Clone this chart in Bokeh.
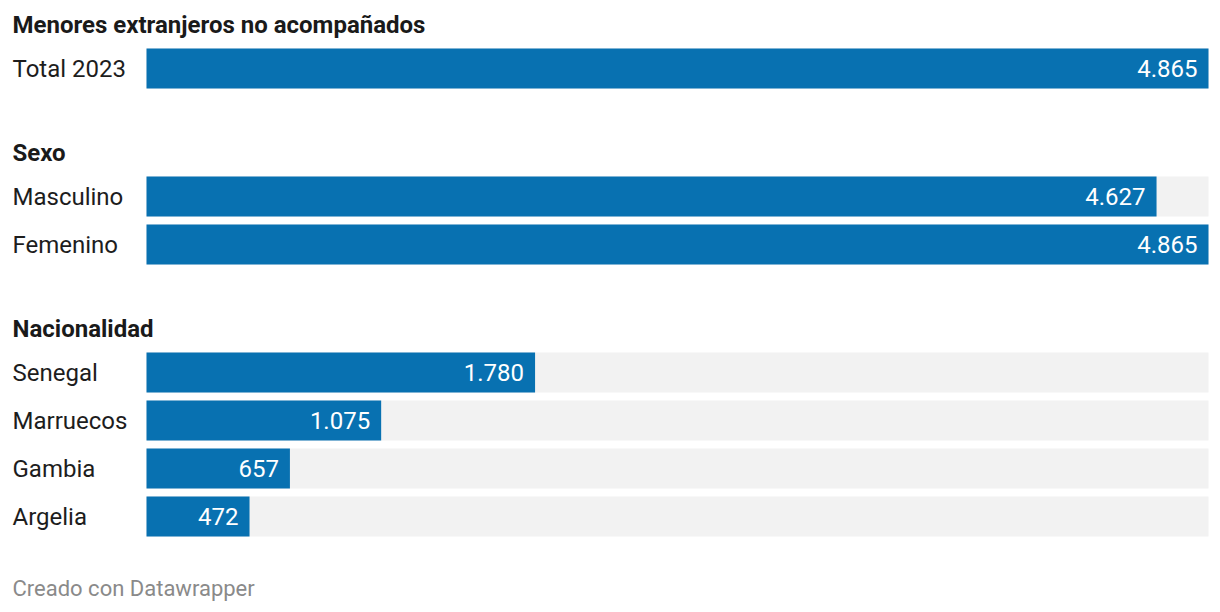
from bokeh.plotting import figure
from bokeh.models import Range1d, ColumnDataSource
from bokeh.core.properties import value
from bokeh.embed import file_html
from bokeh.resources import INLINE

title = "Menores extranjeros no acompañados"
groups = ["", "Sexo", "Nacionalidad"]
labels = ["Total 2023", "Masculino", "Femenino", "Senegal", "Marruecos", "Gambia", "Argelia"]
group_of = [0, 1, 1, 2, 2, 2, 2]
values = [4865, 4627, 4865, 1780, 1075, 657, 472]
max_value = 4865
footer = "Creado con Datawrapper"

W, H = 1220, 612
bar_left, bar_right = 146, 1208
k = max_value / (bar_right - bar_left)

# layout in pixels (y downward)
row_step = 48
group_gap = 80
first_center = 68
bar_h = 40

centers = []
y = first_center
prev = None
for g in group_of:
    if prev is not None:
        y += row_step + (group_gap if g != prev else 0)
    centers.append(y)
    prev = g

header_pos = []
for gi, name in enumerate(groups):
    first = group_of.index(gi)
    header_pos.append(centers[first] - 44)

p = figure(width=W, height=H, output_backend="svg", toolbar_location=None,
           x_range=Range1d(-bar_left * k, (W - bar_left) * k),
           y_range=Range1d(H, 0), min_border=0)
p.axis.visible = False
p.grid.visible = False
p.outline_line_color = None
p.background_fill_color = "white"
p.border_fill_color = "white"

fmt = lambda v: f"{v:,}".replace(",", ".")

src = ColumnDataSource(dict(
    y=centers, v=values, full=[max_value] * len(values), lab=labels,
    vl=[fmt(v) for v in values], vx=[v - 11 * k for v in values],
    lx=[-134 * k] * len(values)))

p.hbar(y="y", left=0, right="full", height=bar_h, source=src,
       fill_color="#f2f2f2", line_color=None)
p.hbar(y="y", left=0, right="v", height=bar_h, source=src,
       fill_color="#0871b1", line_color=None)
p.text(x="lx", y="y", text="lab", source=src, text_font=value("Roboto"),
       text_font_size="24px", text_color="#1d1d1d", text_baseline="middle",
       text_align="left")
p.text(x="vx", y="y", text="vl", source=src, text_font=value("Roboto"),
       text_font_size="24px", text_color="white", text_baseline="middle",
       text_align="right")

hdr_text = [title] + groups[1:]
hdr_y = header_pos
p.text(x=[-134 * k] * len(hdr_text), y=hdr_y, text=hdr_text,
       text_font=value("Roboto"), text_font_size="24px", text_font_style="bold",
       text_color="#1a1a1a", text_baseline="middle", text_align="left")

p.text(x=[-134 * k], y=[588], text=[footer], text_font=value("Roboto"),
       text_font_size="22px", text_color="#8a8a8a", text_baseline="middle",
       text_align="left")

open("out.html", "w").write(file_html(p, INLINE))
